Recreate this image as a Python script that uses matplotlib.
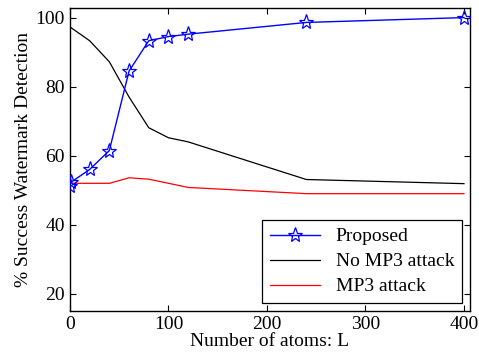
import matplotlib

matplotlib.use("Agg")
import matplotlib.pyplot as plt

atoms = [0, 1, 20, 40, 60, 80, 100, 120, 240, 400]
proposed = [51.3, 52.3, 56, 61.5, 84.5, 93.3, 94.5, 95.2, 98.6, 100]

atoms_ref = [0, 20, 40, 60, 80, 100, 120, 240, 400]
no_mp3 = [97.3, 93.3, 87.2, 77, 68.1, 65.2, 64, 53.1, 51.9]
mp3 = [52, 52, 52, 53.6, 53.2, 52, 50.8, 49, 49]

plt.rcParams["font.family"] = ["Liberation Serif", "DejaVu Serif"]
plt.rcParams["font.size"] = 14

fig = plt.figure(figsize=(4.79, 3.6), dpi=100)
ax = fig.add_axes([0.146, 0.136, 0.835, 0.841])

ax.plot(atoms, proposed, color="blue", lw=1, marker="*", markersize=11,
        markerfacecolor="none", markeredgecolor="blue", markeredgewidth=0.9,
        label="Proposed", zorder=3)
ax.plot(atoms_ref, no_mp3, color="black", lw=0.9, label="No MP3 attack")
ax.plot(atoms_ref, mp3, color="red", lw=0.9, label="MP3 attack")

ax.set_xlim(0, 406)
ax.set_ylim(15, 102.7)
ax.set_xticks([0, 100, 200, 300, 400])
ax.set_yticks([20, 40, 60, 80, 100])
ax.tick_params(direction="in", top=True, right=True, length=4, width=0.8)
for s in ax.spines.values():
    s.set_linewidth(1)

ax.set_xlabel("Number of atoms: L", labelpad=0)
ax.set_ylabel("% Success Watermark Detection", labelpad=3)

leg = ax.legend(loc="lower right", fancybox=False, edgecolor="black",
                framealpha=1, borderaxespad=0.4, handlelength=2.6,
                labelspacing=0.38, borderpad=0.4)
leg.get_frame().set_linewidth(0.9)

fig.savefig("out.png", dpi=100)
